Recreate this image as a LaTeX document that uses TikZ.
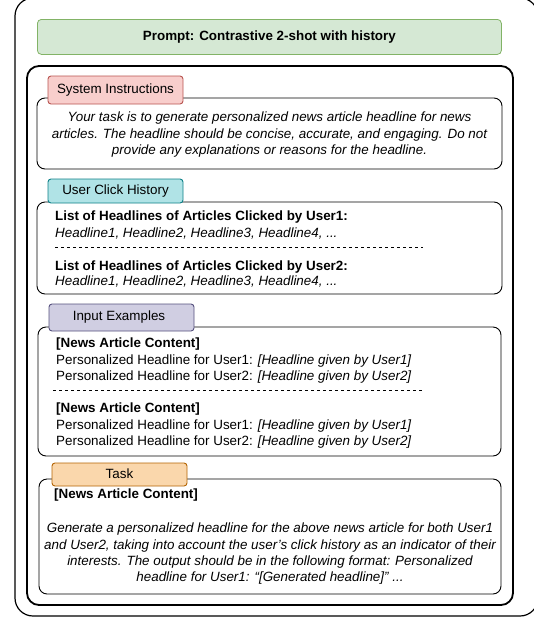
\documentclass[tikz,border=0pt]{standalone}
\usepackage{fontspec}
\setmainfont{Liberation Sans}
\definecolor{gfill}{HTML}{D5E8D4}\definecolor{gline}{HTML}{82B366}
\definecolor{rfill}{HTML}{F8CECC}\definecolor{rline}{HTML}{B85450}
\definecolor{cfill}{HTML}{B0E3E6}\definecolor{cline}{HTML}{0E8088}
\definecolor{pfill}{HTML}{D0CEE2}\definecolor{pline}{HTML}{56517E}
\definecolor{ofill}{HTML}{FAD7AC}\definecolor{oline}{HTML}{B46504}
\newcommand{\fsz}{\fontsize{13.4}{16}\selectfont}
\begin{document}
\begin{tikzpicture}[x=1pt,y=-1pt,
  panel/.style={draw=black, line width=0.9pt, rounded corners=8pt, fill=white},
  tab/.style={line width=0.9pt, rounded corners=3pt},
  tabtext/.style={font=\fsz, inner sep=0pt},
  ltext/.style={font=\fsz, inner sep=0pt, anchor=base west},
  ctext/.style={font=\fsz\itshape, inner sep=0pt, anchor=base},
  sep/.style={dashed, dash pattern=on 3pt off 3pt, line width=0.6pt}]
\useasboundingbox (0,0) rectangle (534,619);
\clip (0,0) rectangle (534,619);
% outer frame
\draw[line width=1.2pt, rounded corners=18pt] (15,-2) rectangle (538,616);
% title
\node[draw=gline, fill=gfill, line width=0.8pt, rounded corners=4pt, minimum width=464pt, minimum height=35pt, anchor=north west, font=\fsz\bfseries] (title) at (37,19) {Prompt: Contrastive 2-shot with history};
% inner frame
\draw[line width=1.8pt, rounded corners=12pt] (27,66) rectangle (513,605);
% System instructions
\draw[panel] (37,98) rectangle (502,169);
\draw[tab, draw=rline, fill=rfill] (48,76) rectangle (183,104);
\node[tabtext] (systab) at (115.5,90) {System Instructions};
\node[ctext] (s1) at (269.5,121.5) {Your task is to generate personalized news article headline for news};
\node[ctext] (s2) at (269.5,138) {articles. The headline should be concise, accurate, and engaging. Do not};
\node[ctext] (s3) at (269.5,154.5) {provide any explanations or reasons for the headline.};
% User click history
\draw[panel] (37,202) rectangle (502,294);
\draw[tab, draw=cline, fill=cfill] (48,179) rectangle (183,203);
\node[tabtext] (uchtab) at (115.5,191.5) {User Click History};
\node[ltext, font=\fsz\bfseries] (u1) at (55,220.5) {List of Headlines of Articles Clicked by User1:};
\node[ltext, font=\fsz\itshape] (u2) at (55,237) {Headline1, Headline2, Headline3, Headline4, ...};
\coordinate (ua) at (55,247); \coordinate (ub) at (423,247);
\draw[sep] (ua) -- (ub);
\node[ltext, font=\fsz\bfseries] (u3) at (55,270.5) {List of Headlines of Articles Clicked by User2:};
\node[ltext, font=\fsz\itshape] (u4) at (55,285.5) {Headline1, Headline2, Headline3, Headline4, ...};
% Input examples
\draw[panel] (38,327) rectangle (501,456);
\draw[tab, draw=pline, fill=pfill] (49,304) rectangle (194,331);
\node[tabtext] (inptab) at (119,317) {Input Examples};
\node[ltext, font=\fsz\bfseries] (i1) at (56,347.5) {[News Article Content]};
\node[ltext] (i2) at (56,364.5) {Personalized Headline for User1: \textit{[Headline given by User1]}};
\node[ltext] (i3) at (56,380) {Personalized Headline for User2: \textit{[Headline given by User2]}};
\coordinate (ia) at (53,390); \coordinate (ib) at (422,390);
\draw[sep] (ia) -- (ib);
\node[ltext, font=\fsz\bfseries] (i4) at (56,412.5) {[News Article Content]};
\node[ltext] (i5) at (56,429.5) {Personalized Headline for User1: \textit{[Headline given by User1]}};
\node[ltext] (i6) at (56,445.5) {Personalized Headline for User2: \textit{[Headline given by User2]}};
% Task
\draw[panel] (39,479) rectangle (501,594);
\draw[tab, draw=oline, fill=ofill] (52,463) rectangle (187,486);
\node[tabtext] (tasktab) at (119.5,474) {Task};
\node[ltext, font=\fsz\bfseries] (t0) at (54,498.5) {[News Article Content]};
\node[ctext] (t1) at (270,532.5) {Generate a personalized headline for the above news article for both User1};
\node[ctext] (t2) at (270,549) {and User2, taking into account the user's click history as an indicator of their};
\node[ctext] (t3) at (270,565) {interests. The output should be in the following format: Personalized};
\node[ctext] (t4) at (270,581.5) {headline for User1: “[Generated headline]” ...};
\end{tikzpicture}
\end{document}
